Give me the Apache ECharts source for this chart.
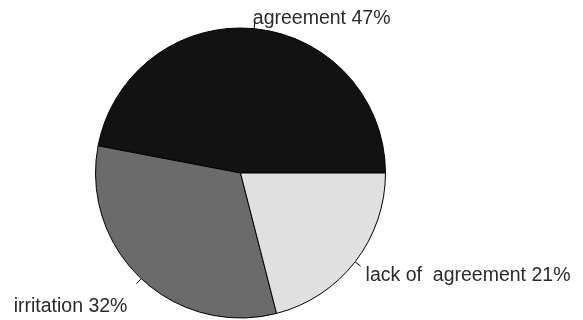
<!DOCTYPE html>
<html>
<head>
<meta charset="utf-8">
<script src="https://cdn.jsdelivr.net/npm/echarts@6/dist/echarts.min.js"></script>
<style>html,body{margin:0;padding:0;background:#fff;}#c{width:583px;height:320px;}</style>
</head>
<body>
<div id="c"></div>
<script>
const categories = ['agreement', 'irritation', 'lack of  agreement'];
const values = [47, 32, 21];
const colors = ['#121212', '#6b6b6b', '#e0e0e0'];
// per-slice label tweaks: vertical shift via an empty line of given height
const labelShift = [-7, 46, 18];
const labelDist = [-2, 9, 5];

const chart = echarts.init(document.getElementById('c'), null, {renderer: 'canvas'});
chart.setOption({
  animation: false,
  backgroundColor: '#fff',
  series: [{
    type: 'pie',
    center: [240.5, 173],
    radius: 145,
    startAngle: 0,
    clockwise: false,
    avoidLabelOverlap: false,
    silent: true,
    itemStyle: {borderColor: '#000', borderWidth: 1},
    label: {
      show: true,
      position: 'outside',
      fontFamily: 'Liberation Sans, Arial, sans-serif',
      fontSize: 19.5,
      color: '#2a2a2a'
    },
    labelLine: {show: true, length: 7, length2: 0, lineStyle: {color: '#000', width: 1}},
    data: categories.map((c, i) => {
      const txt = c + ' ' + values[i] + '%';
      const s = labelShift[i];
      return {
        name: c,
        value: values[i],
        itemStyle: {color: colors[i]},
        label: {
          formatter: s < 0 ? txt + '\n' : '\n' + txt,
          lineHeight: Math.abs(s),
          distanceToLabelLine: labelDist[i]
        }
      };
    })
  }]
});
</script>
</body>
</html>
